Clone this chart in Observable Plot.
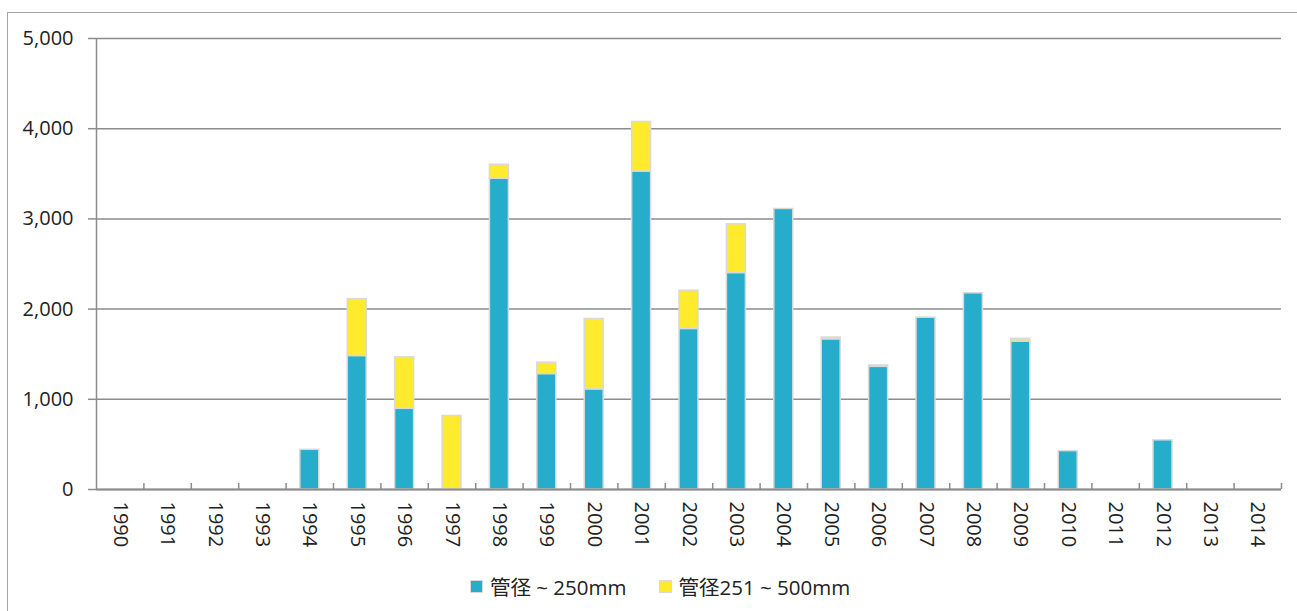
<!DOCTYPE html>
<html>
<head>
<meta charset="utf-8">
<script src="https://cdn.jsdelivr.net/npm/d3@7"></script>
<script src="https://cdn.jsdelivr.net/npm/@observablehq/plot@0.6"></script>
<style>
  html, body { margin: 0; padding: 0; background: #fff; overflow: hidden; width: 1297px; height: 611px; }
  body { position: relative; font-family: "Open Sans", "Noto Sans CJK JP", sans-serif; color: #222; }
  #frame { position: absolute; left: 7px; top: 12px; width: 1400px; height: 700px; border: 1px solid #a6a6a6; pointer-events: none; }
  #chart { position: absolute; left: 0; top: 0; }
  #legend { position: absolute; left: 470px; top: 571px; display: flex; align-items: center; font-size: 20.5px; white-space: nowrap; }
  .item { display: flex; align-items: center; }
  .sw { width: 11px; height: 11px; border: 1px solid #d9d9d9; margin-right: 7px; }
</style>
</head>
<body>
<div id="frame"></div>
<div id="chart"></div>
<div id="legend"></div>
<script>
const years = ["1990","1991","1992","1993","1994","1995","1996","1997","1998","1999","2000","2001","2002","2003","2004","2005","2006","2007","2008","2009","2010","2011","2012","2013","2014"];
const seriesNames = ["管径 ~ 250mm", "管径251 ~ 500mm"];
const seriesColors = ["#25adcb", "#ffeb2d"];
const small = [0,0,0,0,440,1480,895,0,3445,1280,1110,3525,1780,2400,3110,1665,1360,1905,2175,1640,425,0,545,0,0];
const large = [0,0,0,0,0,630,570,815,155,125,780,550,425,540,0,20,15,0,0,30,0,0,0,0,0];
const yTicks = [0,1000,2000,3000,4000,5000];

const rows = [];
years.forEach((y, i) => {
  if (small[i] > 0) rows.push({year: y, series: seriesNames[0], value: small[i]});
  if (large[i] > 0) rows.push({year: y, series: seriesNames[1], value: large[i]});
});

const W = 1297, H = 560, mL = 96, mR = 16, mT = 38, mB = 71;
const step = (W - mL - mR) / years.length;
const frameH = H - mT - mB;
const grey = "#8c8c8c";

const chart = Plot.plot({
  width: W, height: H,
  marginLeft: mL, marginRight: mR, marginTop: mT, marginBottom: mB,
  style: {fontFamily: "'Open Sans', 'Noto Sans CJK JP', sans-serif", color: "#222", background: "transparent"},
  x: {domain: years, paddingInner: 0.6, paddingOuter: 0.3, round: false, label: null},
  y: {domain: [0, 5000], label: null},
  color: {domain: seriesNames, range: seriesColors},
  marks: [
    Plot.gridY(yTicks, {stroke: grey, strokeOpacity: 1, strokeWidth: 1.5}),
    Plot.axisY(yTicks, {tickFormat: d3.format(","), tickSize: 8, tickPadding: 15, fontSize: 20, label: null, stroke: grey, strokeWidth: 1.5, fill: "#222"}),
    Plot.ruleX([years[0]], {x: d => d, dx: -step / 2, stroke: grey, strokeWidth: 1.5}),
    Plot.ruleX(years, {x: d => d, dx: step / 2, insetTop: frameH - 6, stroke: grey, strokeWidth: 1.5}),
    Plot.barY(rows, {x: "year", y: "value", fill: "series", stroke: "#d9d9d9", strokeWidth: 1.5}),
    Plot.ruleY([0], {stroke: grey, strokeWidth: 2}),
    Plot.axisX({tickRotate: 90, tickSize: 0, tickPadding: 12, fontSize: 20, label: null, fill: "#222"})
  ]
});
document.getElementById("chart").appendChild(chart);

const legend = document.getElementById("legend");
seriesNames.forEach((n, i) => {
  const it = document.createElement("div");
  it.className = "item";
  it.style.marginRight = i === 0 ? "32px" : "0";
  const sw = document.createElement("div");
  sw.className = "sw";
  sw.style.background = seriesColors[i];
  const t = document.createElement("span");
  t.textContent = n;
  it.appendChild(sw); it.appendChild(t);
  legend.appendChild(it);
});
</script>
</body>
</html>
